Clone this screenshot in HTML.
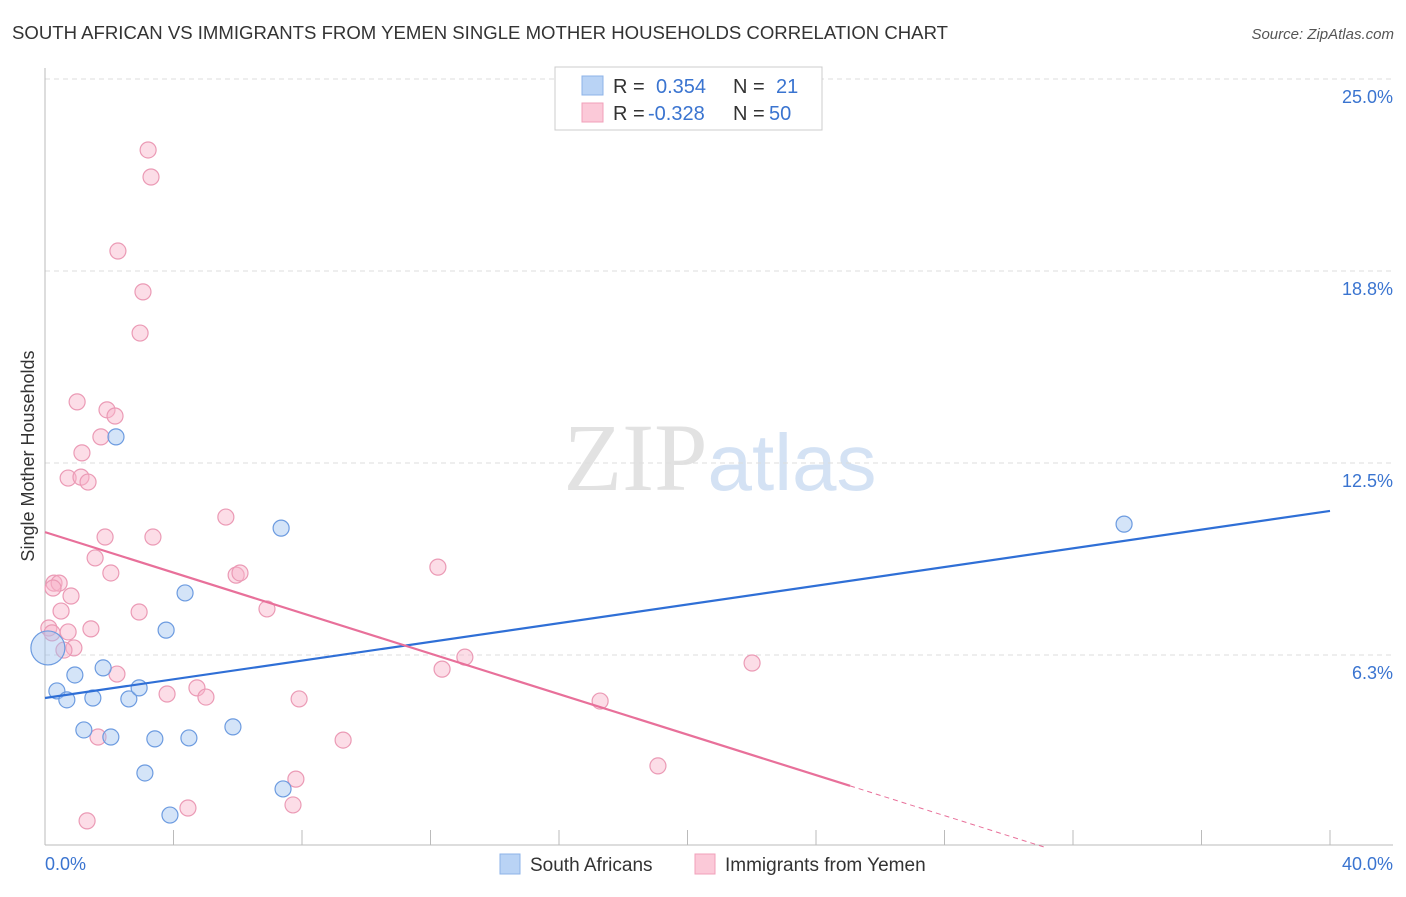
<!DOCTYPE html>
<html><head><meta charset="utf-8"><style>
body{margin:0;background:#fff;font-family:"Liberation Sans",sans-serif;}
svg text{font-family:"Liberation Sans",sans-serif;}
</style></head><body>
<svg id="chart" width="1406" height="892" xmlns="http://www.w3.org/2000/svg">
<text x="12" y="39" font-size="18" fill="#333" textLength="936" lengthAdjust="spacingAndGlyphs">SOUTH AFRICAN VS IMMIGRANTS FROM YEMEN SINGLE MOTHER HOUSEHOLDS CORRELATION CHART</text>
<text x="1394" y="39" font-size="15" fill="#555" text-anchor="end" font-style="italic">Source: ZipAtlas.com</text>
<text transform="translate(34,456) rotate(-90)" font-size="18" fill="#333" text-anchor="middle">Single Mother Households</text>
<text x="720" y="490" font-size="96" text-anchor="middle"><tspan fill="#e2e2e2" font-family="Liberation Serif">ZIP</tspan><tspan fill="#d4e2f4" font-size="80">atlas</tspan></text>
<g id="grid"></g><g id="axes"></g><g id="marks"></g>
<g>
<rect x="555" y="67" width="267" height="63" fill="#fff" stroke="#ccc"/>
<rect x="582" y="76" width="21" height="19" fill="#b9d3f5" stroke="#8db3e8"/>
<rect x="582" y="103" width="21" height="19" fill="#fbc9d8" stroke="#f0a0ba"/>
<text x="613" y="93" font-size="20" fill="#333">R =</text>
<text x="656" y="93" font-size="20" fill="#3a74d0">0.354</text>
<text x="733" y="93" font-size="20" fill="#333">N =</text>
<text x="776" y="93" font-size="20" fill="#3a74d0">21</text>
<text x="613" y="120" font-size="20" fill="#333">R =</text>
<text x="648" y="120" font-size="20" fill="#3a74d0">-0.328</text>
<text x="733" y="120" font-size="20" fill="#333">N =</text>
<text x="769" y="120" font-size="20" fill="#3a74d0">50</text>
</g>
<g>
<rect x="500" y="854" width="20" height="20" fill="#b9d3f5" stroke="#8db3e8"/>
<text x="530" y="871" font-size="19" fill="#333">South Africans</text>
<rect x="695" y="854" width="20" height="20" fill="#fbc9d8" stroke="#f0a0ba"/>
<text x="725" y="871" font-size="19" fill="#333">Immigrants from Yemen</text>
</g>
</svg>
<script>
const blueX=[0.09,0.37,0.68,0.93,1.21,1.49,1.81,2.05,2.21,2.61,2.93,3.11,3.42,3.77,3.89,4.36,4.48,5.85,7.35,7.41,33.59];
const blueY=[6.48,5.08,4.79,5.60,3.81,4.85,5.83,3.58,13.35,4.82,5.18,2.41,3.52,7.06,1.04,8.27,3.55,3.91,10.38,1.89,10.51];
const pinkX=[3.21,3.30,2.27,3.05,2.96,1.00,1.93,2.18,1.74,1.15,0.72,1.12,1.34,5.63,1.87,3.36,1.56,2.05,5.95,6.07,12.23,0.28,0.44,0.25,0.81,0.50,2.93,6.91,0.12,1.43,0.22,0.72,0.90,0.59,13.07,22.01,12.36,2.24,4.73,3.80,5.01,7.91,17.28,1.65,9.28,19.08,7.81,4.45,7.72,1.31];
const pinkY=[22.69,21.81,19.40,18.07,16.73,14.49,14.23,14.03,13.35,12.83,12.01,12.04,11.88,10.74,10.09,10.09,9.41,8.92,8.85,8.92,9.11,8.59,8.59,8.43,8.17,7.68,7.65,7.75,7.13,7.10,6.97,7.00,6.48,6.41,6.18,5.99,5.79,5.63,5.18,4.98,4.88,4.82,4.75,3.58,3.48,2.64,2.21,1.27,1.37,0.85];
const yTicks=[6.25,12.5,18.75,25];
const yTickLabels=["6.3%","12.5%","18.8%","25.0%"];
const blueTrend=[4.85,10.94];
const pinkTrend=[10.25,-0.3296,25.06];
const xs=v=>45+v*32.125, ys=v=>847-v*30.72;
const NS="http://www.w3.org/2000/svg";
function mk(p,t,a){const e=document.createElementNS(NS,t);for(const k in a)e.setAttribute(k,a[k]);p.appendChild(e);return e;}
const grid=document.getElementById('grid'),axes=document.getElementById('axes'),marks=document.getElementById('marks');
yTicks.forEach((t,i)=>{
 const l=mk(grid,'line',{x1:45,x2:1393,y1:ys(t),y2:ys(t),stroke:'#ddd','stroke-dasharray':'5,4'});
 
 
 const tx=mk(grid,'text',{x:1393,y:ys(t)+24,'font-size':18,fill:'#3a74d0','text-anchor':'end'});
 tx.textContent=yTickLabels[i];
 
 
});
mk(axes,'line',{x1:45,x2:45,y1:68,y2:845,stroke:'#bbb'});
mk(axes,'line',{x1:45,x2:1393,y1:845,y2:845,stroke:'#bbb'});
for(let i=0;i<=10;i++){const t=mk(axes,'line',{x1:xs(i*4),x2:xs(i*4),y1:830,y2:845,stroke:'#bbb'});
 
 }
const xl0=mk(axes,'text',{x:45,y:870,'font-size':18,fill:'#3a74d0'});xl0.textContent='0.0%';


const xl1=mk(axes,'text',{x:1393,y:870,'font-size':18,fill:'#3a74d0','text-anchor':'end'});xl1.textContent='40.0%';


pinkX.forEach((x,i)=>{const c=mk(marks,'circle',{cx:xs(x),cy:ys(pinkY[i]),r:8,fill:'rgba(248,180,202,0.45)',stroke:'#eb9ab5','stroke-width':1.2});
 
 });
blueX.forEach((x,i)=>{const c=mk(marks,'circle',{cx:xs(x),cy:ys(blueY[i]),r:i==0?17:8,fill:'rgba(160,196,240,0.45)',stroke:'#6c9be0','stroke-width':1.2});
 
 });
const bl=mk(marks,'line',{x1:xs(0),y1:ys(blueTrend[0]),x2:xs(40),y2:ys(blueTrend[1]),stroke:'#2f6fd6','stroke-width':2.2});


const pEnd=pinkTrend[2], zeroX=-pinkTrend[0]/pinkTrend[1];
const pl=mk(marks,'line',{x1:xs(0),y1:ys(pinkTrend[0]),x2:xs(pEnd),y2:ys(pinkTrend[0]+pinkTrend[1]*pEnd),stroke:'#e8709a','stroke-width':2.2});


const pd=mk(marks,'line',{x1:xs(pEnd),y1:ys(pinkTrend[0]+pinkTrend[1]*pEnd),x2:xs(zeroX),y2:ys(0),stroke:'#e8709a','stroke-width':1,'stroke-dasharray':'5,4'});


</script>
</body></html>
